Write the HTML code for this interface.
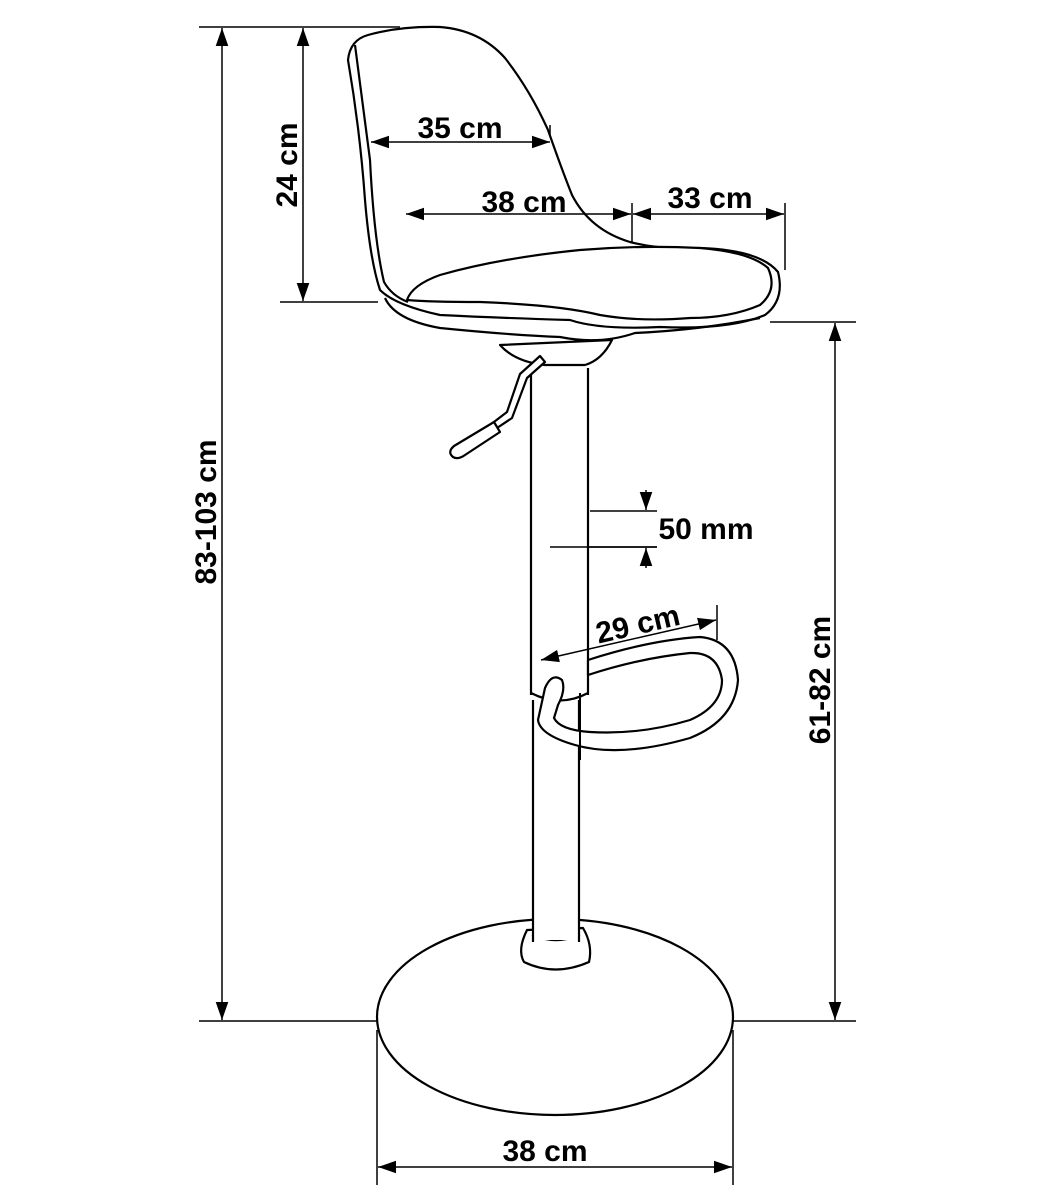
<!DOCTYPE html>
<html><head><style>
html,body{margin:0;padding:0;background:#fff;}
svg{display:block;}
text{font-family:"Liberation Sans",Arial,sans-serif;font-weight:bold;fill:#000;}
</style></head><body>
<svg width="1052" height="1200" viewBox="0 0 1052 1200" xmlns="http://www.w3.org/2000/svg">
<defs>
<marker id="a" viewBox="0 0 10 10" refX="10" refY="5" markerWidth="18" markerHeight="18" markerUnits="userSpaceOnUse" orient="auto-start-reverse"><path d="M0,1.5 L10,5 L0,8.5 Z" fill="#000"/></marker>
</defs>
<g stroke="#000" stroke-width="1.5" fill="none">
<line x1="199" y1="27" x2="400" y2="27"/>
<line x1="199" y1="1021" x2="377" y2="1021"/>
<line x1="280" y1="302" x2="378" y2="302"/>
<line x1="770" y1="322" x2="856" y2="322"/>
<line x1="733" y1="1021" x2="856" y2="1021"/>
<line x1="377" y1="1030" x2="377" y2="1185"/>
<line x1="733" y1="1030" x2="733" y2="1185"/>
<line x1="405" y1="203" x2="405" y2="292"/>
<line x1="632" y1="203" x2="632" y2="245"/>
<line x1="785" y1="203" x2="785" y2="270"/>
<line x1="370" y1="125" x2="370" y2="155"/>
<line x1="550" y1="125" x2="550" y2="155"/>
<line x1="590" y1="511" x2="657" y2="511"/>
<line x1="550" y1="547" x2="657" y2="547"/>
<line x1="540" y1="642" x2="540" y2="692"/>
<line x1="717" y1="605" x2="717" y2="640"/>
<line x1="222" y1="28" x2="222" y2="1020" marker-start="url(#a)" marker-end="url(#a)"/>
<line x1="303" y1="28" x2="303" y2="301" marker-start="url(#a)" marker-end="url(#a)"/>
<line x1="835" y1="323" x2="835" y2="1020" marker-start="url(#a)" marker-end="url(#a)"/>
<line x1="378" y1="1167" x2="732" y2="1167" marker-start="url(#a)" marker-end="url(#a)"/>
<line x1="646" y1="490" x2="646" y2="510" marker-end="url(#a)"/>
<line x1="646" y1="568" x2="646" y2="548" marker-end="url(#a)"/>
</g>
<g stroke="#000" stroke-width="2.2" fill="#fff" stroke-linejoin="round">
<ellipse cx="555" cy="1017" rx="178" ry="98"/>
<path d="M527,930 Q517,950 524,962 Q555,977 589,962 Q593,945 583,928 Z"/>
<path d="M532,935 Q556,946 580,935" fill="none" stroke-width="1.5"/>
<rect x="533" y="880" width="46" height="60" stroke="none"/>
<line x1="533" y1="700" x2="533" y2="942"/>
<line x1="579" y1="700" x2="579" y2="942"/>
<rect x="531" y="365" width="57" height="335" stroke="none"/>
<line x1="531" y1="368" x2="531" y2="695"/>
<line x1="588" y1="368" x2="588" y2="695"/>
<path d="M531,693 Q560,708 588,693" fill="none"/>
<path d="M588,660 Q650,640 700,637 Q735,640 738,680 Q735,720 690,738 Q620,758 575,745 Q540,735 538,720 L545,688 Q552,672 562,680 Q566,690 558,705 L554,718 Q560,730 590,732 Q640,735 690,720 Q722,706 722,680 Q718,652 690,653 Q640,658 588,675 Z"/>
<line x1="580" y1="693" x2="580" y2="760" stroke-width="2"/>
<path d="M500,345 Q515,362 545,365 L585,365 Q602,360 612,340 Z"/>
<path d="M545,362 L527,378 L512,418 L494,430 L490,425 L507,412 L520,374 L540,356 Z"/>
<path d="M494,422 L454,446 Q447,452 453,457 Q458,460 465,455 L500,432 Z"/>
<path d="M348,60 Q350,40 368,35 Q400,26 440,27 Q480,30 505,58 Q530,90 548,130 Q562,170 572,195 Q590,230 630,242 Q660,250 700,248 Q760,250 778,272 Q785,300 765,315 Q730,330 660,327 Q600,330 570,320 Q500,318 440,315 Q395,305 380,290 Q370,260 365,200 Q360,130 348,60 Z"/>
<path d="M385,298 Q395,320 440,328 Q510,335 560,337 Q600,345 635,333 Q700,330 760,318" fill="none"/>
<path d="M355,45 Q362,100 370,160 Q374,240 384,282 Q392,296 408,302" fill="none"/>
<path d="M407,300 Q412,285 440,275 Q500,258 580,250 Q640,245 700,248 Q750,252 768,268 Q778,290 760,305 Q730,318 690,318 Q640,322 600,315 Q560,305 480,302 Q430,302 407,300 Z"/>
</g>
<g stroke="#000" stroke-width="1.5" fill="none">
<line x1="371" y1="142" x2="550" y2="142" marker-start="url(#a)" marker-end="url(#a)"/>
<line x1="406" y1="214" x2="631" y2="214" marker-start="url(#a)" marker-end="url(#a)"/>
<line x1="633" y1="214" x2="784" y2="214" marker-start="url(#a)" marker-end="url(#a)"/>
<line x1="541" y1="660" x2="716" y2="620" marker-start="url(#a)" marker-end="url(#a)"/>
<line x1="550" y1="547" x2="657" y2="547"/>
</g>
<g font-size="30">
<text x="460" y="138" text-anchor="middle">35 cm</text>
<text x="524" y="212" text-anchor="middle">38 cm</text>
<text x="710" y="208" text-anchor="middle">33 cm</text>
<text x="706" y="539" text-anchor="middle">50 mm</text>
<text x="545" y="1161" text-anchor="middle">38 cm</text>
<text transform="translate(640,634) rotate(-13)" text-anchor="middle">29 cm</text>
<text transform="translate(297,165) rotate(-90)" text-anchor="middle">24 cm</text>
<text transform="translate(216,512) rotate(-90)" text-anchor="middle">83-103 cm</text>
<text transform="translate(830,680) rotate(-90)" text-anchor="middle">61-82 cm</text>
</g>
</svg>
</body></html>
